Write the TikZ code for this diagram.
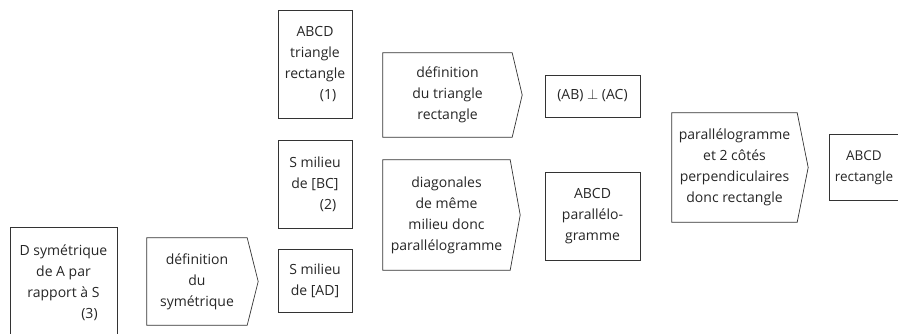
\documentclass[tikz,border=0pt]{standalone}
\usepackage{fontspec}
\setmainfont{Open Sans}
\begin{document}
\begin{tikzpicture}[x=1pt,y=-1pt,
  lbl/.style={align=center, inner sep=0pt, font=\fontsize{14}{21}\selectfont, text=black!85},
  box/.style={lbl, draw=black!80, line width=0.7pt},
  edge/.style={draw=black!80, line width=0.7pt, line join=miter}]
\useasboundingbox (0,0) rectangle (898,333);
\clip (0,0) rectangle (898,333);

% rectangles
\node[box, minimum width=107, minimum height=112] (dsym) at (63.5,283)
  {D symétrique\\ de A par\\ rapport à S\\ \hspace*{52pt}(3)};
\node[box, minimum width=74, minimum height=108] (tri) at (315,64)
  {ABCD\\ triangle\\ rectangle\\ \hspace*{26pt}(1)};
\node[box, minimum width=74, minimum height=88] (sbc) at (315,184)
  {S milieu\\ de [BC]\\ \hspace*{26pt}(2)};
\node[box, minimum width=74, minimum height=63] (sad) at (315,280.5)
  {S milieu\\ de [AD]};
\node[box, minimum width=95, minimum height=42] (perp) at (592.5,96)
  {(AB) \ensuremath{\perp} (AC)};
\node[box, minimum width=95, minimum height=88] (para) at (592.5,216)
  {ABCD\\ parallélo-\\ gramme};
\node[lbl, font=\fontsize{13.5}{21}\selectfont, minimum width=68, minimum height=65] (rect) at (864,167.5)
  {ABCD\\ rectangle};
\draw[edge] ([xshift=40pt]rect.north east) -- (rect.north west)
  -- (rect.south west) -- ([xshift=40pt]rect.south east);

% pentagons (text nodes + outline)
\node[lbl, minimum width=100, minimum height=87] (dsy) at (197,281.5)
  {définition\\ du\\ symétrique};
\draw[edge] (dsy.north west) -- (dsy.north east) -- ([xshift=11pt]dsy.east)
  -- (dsy.south east) -- (dsy.south west) -- cycle;

\node[lbl, minimum width=129, minimum height=84] (dtr) at (447.5,95)
  {définition\\ du triangle\\ rectangle};
\draw[edge] (dtr.north west) -- (dtr.north east) -- ([xshift=10pt]dtr.east)
  -- (dtr.south east) -- (dtr.south west) -- cycle;

\node[lbl, minimum width=127, minimum height=110] (diag) at (446.5,215)
  {diagonales\\ de même\\ milieu donc\\ parallélogramme};
\draw[edge] (diag.north west) -- (diag.north east) -- ([xshift=10pt]diag.east)
  -- (diag.south east) -- (diag.south west) -- cycle;

\node[lbl, minimum width=125, minimum height=109] (pcr) at (734.5,167.5)
  {parallélogramme\\ et 2 côtés\\ perpendiculaires\\ donc rectangle};
\draw[edge] (pcr.north west) -- (pcr.north east) -- ([xshift=11pt]pcr.east)
  -- (pcr.south east) -- (pcr.south west) -- cycle;
\end{tikzpicture}
\end{document}
